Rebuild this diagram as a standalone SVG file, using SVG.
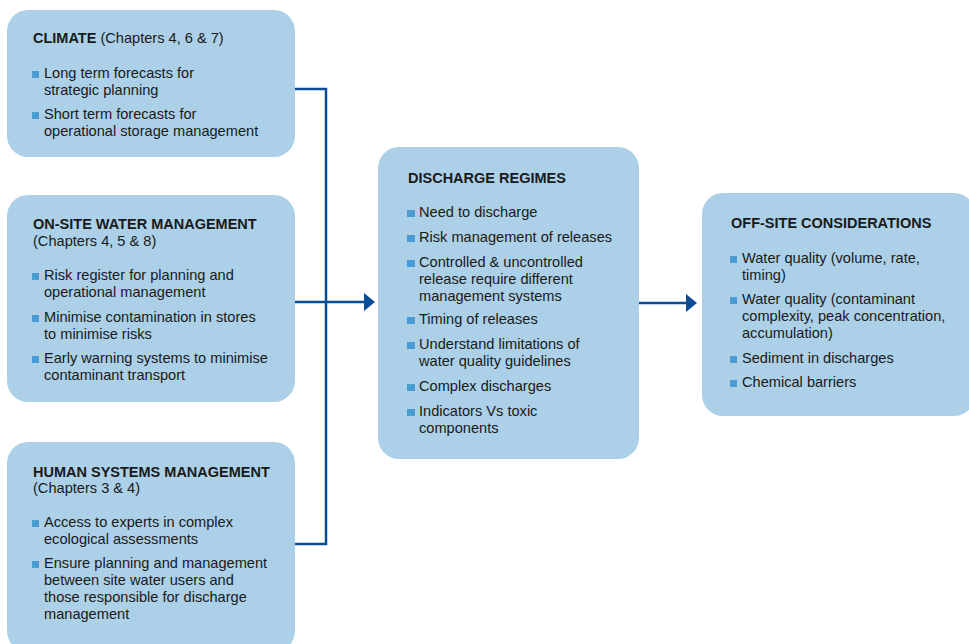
<svg xmlns="http://www.w3.org/2000/svg" width="969" height="644" viewBox="0 0 969 644">
<style>
.box{fill:#abd0e8;}
.t{font-family:"Liberation Sans",Arial,sans-serif;font-size:14.6px;fill:#1a1a1a;}
.b{font-weight:bold;font-size:14.5px;}
.sq{fill:#4a9bd3;}
.ln{fill:none;stroke:#0b4c94;stroke-width:2.5;}
</style>
<defs>
<marker id="ah" viewBox="0 0 11 18" refX="0" refY="9" markerWidth="11" markerHeight="18" markerUnits="userSpaceOnUse" orient="auto">
<path d="M0,0 L11,9 L0,18 z" fill="#0b4c94"/>
</marker>
</defs>
<rect width="969" height="644" fill="#ffffff"/>

<g id="connectors">
<path class="ln" d="M295,89 H326 V544 H295"/>
<path class="ln" d="M295,302 H364" marker-end="url(#ah)"/>
<path class="ln" d="M639,303 H686" marker-end="url(#ah)"/>
</g>

<g id="climate">
<rect class="box" x="7" y="10" width="288" height="147" rx="21"/>
<text class="t" x="33" y="43"><tspan class="b">CLIMATE</tspan> (Chapters 4, 6 &amp; 7)</text>
<rect class="sq" x="32" y="71" width="7" height="7"/>
<text class="t" x="44" y="78">Long term forecasts for</text>
<text class="t" x="44" y="95">strategic planning</text>
<rect class="sq" x="32" y="112" width="7" height="7"/>
<text class="t" x="44" y="119">Short term forecasts for</text>
<text class="t" x="44" y="136">operational storage management</text>
</g>

<g id="onsite">
<rect class="box" x="7" y="195" width="288" height="207" rx="21"/>
<text class="t b" x="33" y="229">ON-SITE WATER MANAGEMENT</text>
<text class="t" x="33" y="246">(Chapters 4, 5 &amp; 8)</text>
<rect class="sq" x="32" y="273" width="7" height="7"/>
<text class="t" x="44" y="280">Risk register for planning and</text>
<text class="t" x="44" y="297">operational management</text>
<rect class="sq" x="32" y="315" width="7" height="7"/>
<text class="t" x="44" y="322">Minimise contamination in stores</text>
<text class="t" x="44" y="339">to minimise risks</text>
<rect class="sq" x="32" y="356" width="7" height="7"/>
<text class="t" x="44" y="363">Early warning systems to minimise</text>
<text class="t" x="44" y="380">contaminant transport</text>
</g>

<g id="human">
<rect class="box" x="7" y="442" width="288" height="210" rx="21"/>
<text class="t b" x="33" y="477">HUMAN SYSTEMS MANAGEMENT</text>
<text class="t" x="33" y="493">(Chapters 3 &amp; 4)</text>
<rect class="sq" x="32" y="520" width="7" height="7"/>
<text class="t" x="44" y="527">Access to experts in complex</text>
<text class="t" x="44" y="544">ecological assessments</text>
<rect class="sq" x="32" y="561" width="7" height="7"/>
<text class="t" x="44" y="568">Ensure planning and management</text>
<text class="t" x="44" y="585">between site water users and</text>
<text class="t" x="44" y="602">those responsible for discharge</text>
<text class="t" x="44" y="619">management</text>
</g>

<g id="discharge">
<rect class="box" x="378" y="147" width="261" height="312" rx="21"/>
<text class="t b" x="408" y="183">DISCHARGE REGIMES</text>
<rect class="sq" x="407" y="210" width="8" height="7"/>
<text class="t" x="419" y="217">Need to discharge</text>
<rect class="sq" x="407" y="235" width="8" height="7"/>
<text class="t" x="419" y="242">Risk management of releases</text>
<rect class="sq" x="407" y="260" width="8" height="7"/>
<text class="t" x="419" y="267">Controlled &amp; uncontrolled</text>
<text class="t" x="419" y="284">release require different</text>
<text class="t" x="419" y="301">management systems</text>
<rect class="sq" x="407" y="317" width="8" height="7"/>
<text class="t" x="419" y="324">Timing of releases</text>
<rect class="sq" x="407" y="342" width="8" height="7"/>
<text class="t" x="419" y="349">Understand limitations of</text>
<text class="t" x="419" y="366">water quality guidelines</text>
<rect class="sq" x="407" y="384" width="8" height="7"/>
<text class="t" x="419" y="391">Complex discharges</text>
<rect class="sq" x="407" y="409" width="8" height="7"/>
<text class="t" x="419" y="416">Indicators Vs toxic</text>
<text class="t" x="419" y="433">components</text>
</g>

<g id="offsite">
<rect class="box" x="702" y="193" width="273" height="223" rx="21"/>
<text class="t b" x="731" y="228">OFF-SITE CONSIDERATIONS</text>
<rect class="sq" x="730" y="256" width="7" height="7"/>
<text class="t" x="742" y="263">Water quality (volume, rate,</text>
<text class="t" x="742" y="280">timing)</text>
<rect class="sq" x="730" y="297" width="7" height="7"/>
<text class="t" x="742" y="304">Water quality (contaminant</text>
<text class="t" x="742" y="321">complexity, peak concentration,</text>
<text class="t" x="742" y="338">accumulation)</text>
<rect class="sq" x="730" y="356" width="7" height="7"/>
<text class="t" x="742" y="363">Sediment in discharges</text>
<rect class="sq" x="730" y="380" width="7" height="7"/>
<text class="t" x="742" y="387">Chemical barriers</text>
</g>
</svg>
